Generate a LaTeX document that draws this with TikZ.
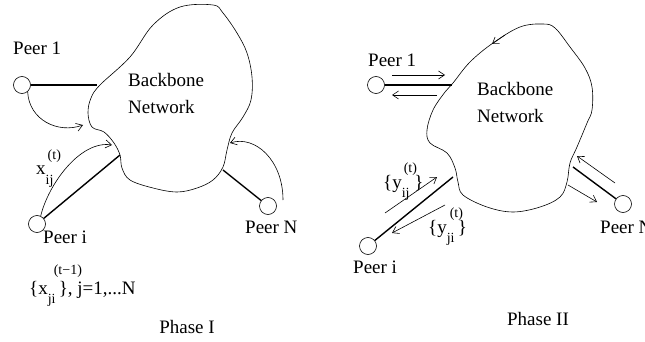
\documentclass[tikz,border=0pt]{standalone}
\usepackage{fontspec}
\setmainfont{Liberation Serif}
\usetikzlibrary{arrows.meta}

\newcommand{\idxsize}{\fontsize{14}{14}\selectfont}
\newcommand{\suplift}{0.8em}
\newcommand{\supsub}[3][1pt]{\rlap{\kern#1\raisebox{\suplift}{\idxsize #2}}\raisebox{-0.5em}{\idxsize #3}}

\tikzset{
    peer/.style={circle,draw,line width=0.6pt,minimum size=17pt,inner sep=0pt},
    link/.style={line width=1.4pt},
    blob/.style={line width=0.6pt},
    flow/.style={line width=0.6pt,-{Straight Barb[length=6pt,width=8pt]}},
    lbl/.style={inner sep=0pt,font=\fontsize{19}{27}\selectfont}
}

\begin{document}
\begin{tikzpicture}[x=1pt,y=-1pt]
            \useasboundingbox (0,0) rectangle (645,342);
            % Phase I
            \draw[blob] plot[smooth cycle,tension=0.6] coordinates {
                (180,7) (213,5) (223,13) (237,33) (247,53) (252,77) (251,100)
                (243,117) (232,133) (227,150) (223,167) (213,180) (197,188)
                (177,192) (153,188) (130,180) (122,168) (120,155) (114,143)
                (104,132) (92,127) (88,113) (91,98) (100,85) (130,57) (153,25)};
            \node[lbl,anchor=north west,align=left] (netL) at (128,73) {Backbone\\Network};
            \coordinate (bL1) at (97,85);
            \coordinate (bLi) at (120,155);
            \coordinate (bLn) at (223,170);
            \node[peer] (p1L) at (22,85) {};
            \node[peer] (piL) at (37,224) {};
            \node[peer] (pnL) at (268,206) {};
            \node[lbl,anchor=base west] (p1Ltxt) at (13,55) {Peer 1};
            \node[lbl,anchor=base west] (piLtxt) at (43,243) {Peer i};
            \node[lbl,anchor=base west] (pnLtxt) at (245,233) {Peer N};
            \draw[link] (p1L) -- (bL1);
            \draw[link] (piL) -- (bLi);
            \draw[link] (bLn) -- (pnL);
            \coordinate (aL1) at (83,125);
            \coordinate (aLi) at (112,145);
            \coordinate (sLn) at (283,200);
            \coordinate (aLn) at (230,143);
            \draw[flow] (p1L.-50) .. controls (29,120) and (58,134) .. (aL1);
            \draw[flow] (piL.65) .. controls (48,185) and (80,140) .. (aLi);
            \draw[flow] (sLn) .. controls (283,160) and (255,135) .. (aLn);
            \node[lbl,anchor=base west] (xij) at (36,175) {x\supsub[2pt]{(t)}{ij}};
            \node[lbl,anchor=base west] (xji) at (29,294) {\renewcommand{\suplift}{1.05em}\{x\supsub[6pt]{(t−1)}{ji}\,\}, j=1,...N};
            \node[lbl,anchor=base] (ph1) at (187,333) {Phase I};
            % Phase II
            \draw[blob] plot[smooth cycle,tension=0.6] coordinates {
                (520,27) (543,24) (555,28) (570,47) (585,68) (592,87) (592,110)
                (587,123) (577,147) (570,163) (567,182) (560,197) (540,207)
                (513,212) (487,207) (463,195) (458,182) (455,168) (447,153)
                (430,143) (427,130) (433,110) (445,92) (453,83) (470,62) (493,43)};
            \coordinate (tR) at (505,35);
            \coordinate (tRtip) at (492,44);
            \draw[flow] (tR) -- (tRtip);
            \node[lbl,anchor=north west,align=left] (netR) at (477,82) {Backbone\\Network};
            \coordinate (bR1) at (452,85);
            \coordinate (bRi) at (453,177);
            \coordinate (bRn) at (573,167);
            \node[peer] (p1R) at (376,85) {};
            \node[peer] (piR) at (368,246) {};
            \node[peer] (pnR) at (623,204) {};
            \node[lbl,anchor=base west] (p1Rtxt) at (368,67) {Peer 1};
            \node[lbl,anchor=base west] (piRtxt) at (353,273) {Peer i};
            \node[lbl,anchor=base west] (pnRtxt) at (600,233) {Peer N};
            \draw[link] (p1R) -- (bR1);
            \draw[link] (piR) -- (bRi);
            \draw[link] (bRn) -- (pnR);
            \coordinate (u1a) at (392,75);
            \coordinate (u1b) at (445,75);
            \coordinate (d1a) at (437,95);
            \coordinate (d1b) at (392,95);
            \draw[flow] (u1a) -- (u1b);
            \draw[flow] (d1a) -- (d1b);
            \coordinate (uia) at (385,213);
            \coordinate (uib) at (437,177);
            \coordinate (dia) at (445,205);
            \coordinate (dib) at (392,233);
            \draw[flow] (uia) -- (uib);
            \draw[flow] (dia) -- (dib);
            \coordinate (una) at (615,183);
            \coordinate (unb) at (577,156);
            \coordinate (dna) at (568,185);
            \coordinate (dnb) at (597,202);
            \draw[flow] (una) -- (unb);
            \draw[flow] (dna) -- (dnb);
            \node[lbl,anchor=base west] (yij) at (383,188) {\{y\supsub[2pt]{(t)}{ij}\ \}};
            \node[lbl,anchor=base west] (yji) at (428,233) {\{y\supsub[3pt]{(t)}{ji}\,\}};
            \node[lbl,anchor=base] (ph2) at (538,325) {Phase II};
        \end{tikzpicture}
\end{document}
